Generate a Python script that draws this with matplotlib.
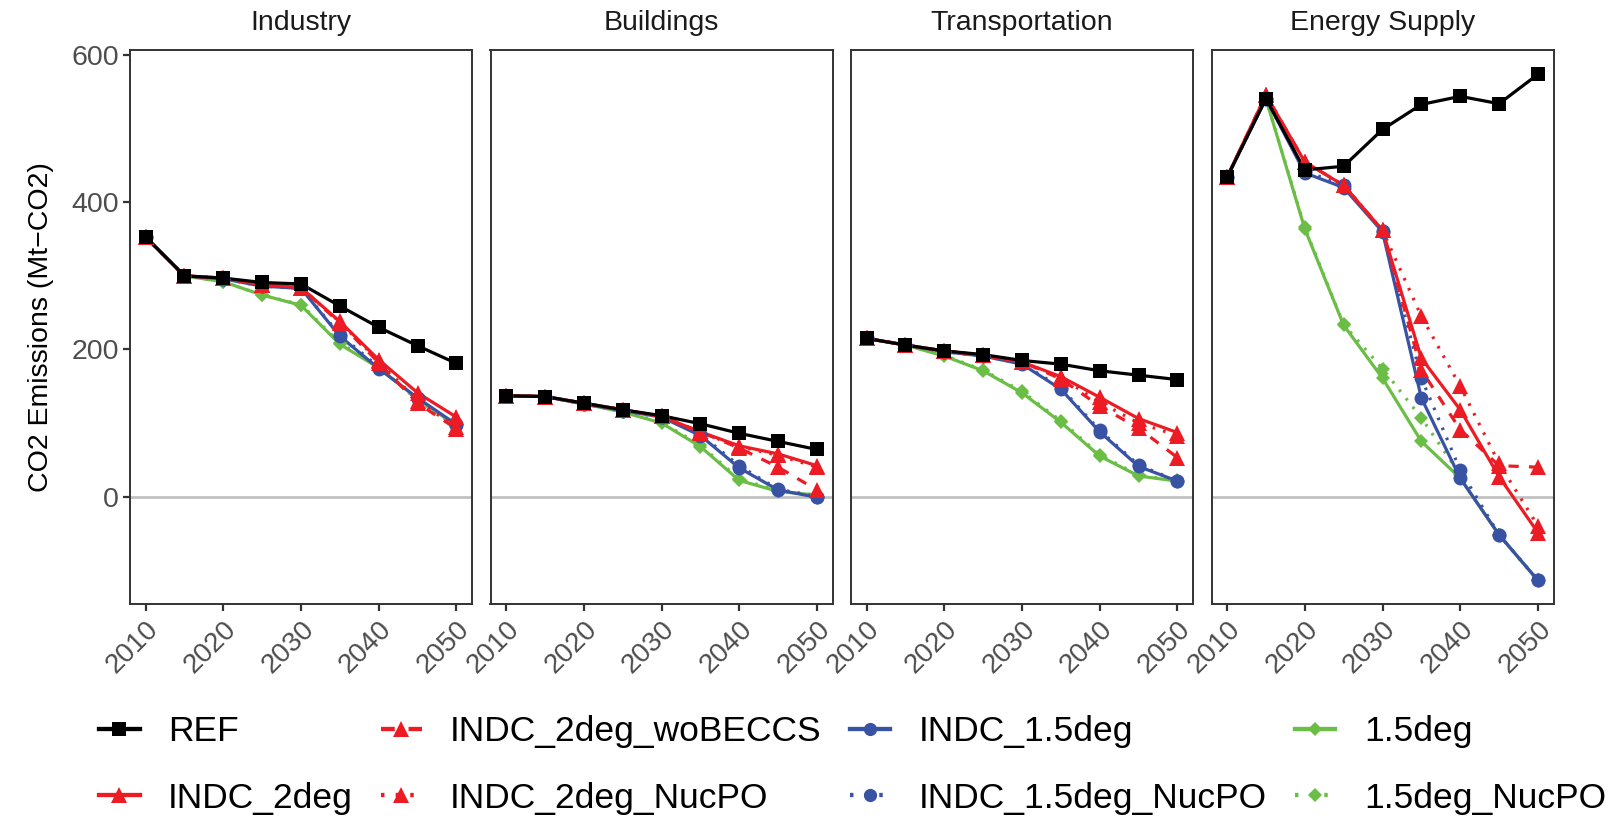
import matplotlib
matplotlib.use("Agg")
import matplotlib.pyplot as plt
from matplotlib.lines import Line2D
from matplotlib.transforms import offset_copy

plt.rcParams["font.family"] = ["Liberation Sans", "DejaVu Sans"]

YEARS = [2010, 2015, 2020, 2025, 2030, 2035, 2040, 2045, 2050]
SECTORS = ["Industry", "Buildings", "Transportation", "Energy Supply"]
SCENARIOS = ["REF", "INDC_2deg", "INDC_2deg_woBECCS", "INDC_2deg_NucPO",
             "INDC_1.5deg", "INDC_1.5deg_NucPO", "1.5deg", "1.5deg_NucPO"]

# Industry
IND_REF = [353, 300, 297, 291, 289, 259, 230, 205, 181]
IND_2DEG = [353, 300, 297, 288, 284, 238, 186, 141, 108]
IND_2DEG_WOBECCS = [353, 300, 297, 288, 284, 236, 182, 127, 92]
IND_2DEG_NUCPO = [353, 300, 297, 288, 284, 237, 184, 130, 94]
IND_15 = [353, 300, 296, 286, 283, 218, 174, 134, 98]
IND_15_NUCPO = [353, 300, 296, 286, 283, 220, 176, 132, 97]
IND_15DEG = [353, 300, 292, 274, 260, 207, 175, 133, 96]
IND_15DEG_NUCPO = [353, 300, 292, 274, 261, 209, 176, 131, 95]

# Buildings
BLD_REF = [137, 136, 127, 118, 110, 99, 86, 75, 64]
BLD_2DEG = [137, 136, 127, 118, 109, 88, 69, 58, 42]
BLD_2DEG_WOBECCS = [137, 136, 127, 118, 109, 88, 66, 40, 9]
BLD_2DEG_NUCPO = [137, 136, 127, 118, 109, 87, 68, 56, 40]
BLD_15 = [137, 136, 126, 117, 108, 83, 39, 9, -1]
BLD_15_NUCPO = [137, 136, 126, 117, 108, 85, 42, 10, 0]
BLD_15DEG = [137, 136, 126, 115, 100, 68, 22, 7, 2]
BLD_15DEG_NUCPO = [137, 136, 126, 115, 101, 70, 24, 8, 2]

# Transportation
TRN_REF = [215, 206, 198, 193, 185, 180, 171, 165, 159]
TRN_2DEG = [215, 206, 198, 192, 183, 163, 135, 106, 87]
TRN_2DEG_WOBECCS = [215, 206, 198, 192, 183, 160, 123, 93, 53]
TRN_2DEG_NUCPO = [215, 206, 198, 192, 183, 162, 128, 100, 83]
TRN_15 = [215, 206, 197, 191, 180, 146, 88, 41, 21]
TRN_15_NUCPO = [215, 206, 197, 191, 181, 148, 90, 43, 21]
TRN_15DEG = [215, 206, 191, 171, 141, 101, 55, 28, 21]
TRN_15DEG_NUCPO = [215, 206, 192, 172, 143, 103, 57, 29, 22]

# Energy Supply
ENE_REF = [434, 541, 444, 449, 499, 533, 544, 534, 574]
ENE_2DEG = [434, 546, 455, 423, 362, 188, 118, 27, -49]
ENE_2DEG_WOBECCS = [434, 546, 455, 423, 362, 172, 91, 42, 40]
ENE_2DEG_NUCPO = [434, 546, 455, 423, 362, 245, 150, 45, -40]
ENE_15 = [434, 541, 440, 420, 360, 134, 25, -52, -114]
ENE_15_NUCPO = [434, 541, 442, 424, 361, 161, 36, -52, -114]
ENE_15DEG = [434, 541, 364, 233, 161, 75, 25, -52, -114]
ENE_15DEG_NUCPO = [434, 541, 366, 234, 174, 107, 30, -52, -114]

DATA = {
    "Industry": [IND_REF, IND_2DEG, IND_2DEG_WOBECCS, IND_2DEG_NUCPO,
                 IND_15, IND_15_NUCPO, IND_15DEG, IND_15DEG_NUCPO],
    "Buildings": [BLD_REF, BLD_2DEG, BLD_2DEG_WOBECCS, BLD_2DEG_NUCPO,
                  BLD_15, BLD_15_NUCPO, BLD_15DEG, BLD_15DEG_NUCPO],
    "Transportation": [TRN_REF, TRN_2DEG, TRN_2DEG_WOBECCS, TRN_2DEG_NUCPO,
                       TRN_15, TRN_15_NUCPO, TRN_15DEG, TRN_15DEG_NUCPO],
    "Energy Supply": [ENE_REF, ENE_2DEG, ENE_2DEG_WOBECCS, ENE_2DEG_NUCPO,
                      ENE_15, ENE_15_NUCPO, ENE_15DEG, ENE_15DEG_NUCPO],
}

RED, BLUE, GREEN = "#ED1C24", "#3953A4", "#6ABD45"
DOT = (0, (0.8, 2.6))
DASH = (0, (3.2, 3.2))
STYLE = {
    "REF":               dict(color="black", ls="-",  marker="s", ms=10.5),
    "INDC_2deg":         dict(color=RED,     ls="-",  marker="^", ms=11.5),
    "INDC_2deg_woBECCS": dict(color=RED,     ls=DASH, marker="^", ms=11.5),
    "INDC_2deg_NucPO":   dict(color=RED,     ls=DOT,  marker="^", ms=11.5),
    "INDC_1.5deg":       dict(color=BLUE,    ls="-",  marker="o", ms=10),
    "INDC_1.5deg_NucPO": dict(color=BLUE,    ls=DOT,  marker="o", ms=10),
    "1.5deg":            dict(color=GREEN,   ls="-",  marker="D", ms=7),
    "1.5deg_NucPO":      dict(color=GREEN,   ls=DOT,  marker="D", ms=7),
}
# drawing order: green under blue under red under black
DRAW_ORDER = ["1.5deg", "1.5deg_NucPO", "INDC_1.5deg", "INDC_1.5deg_NucPO",
              "INDC_2deg", "INDC_2deg_woBECCS", "INDC_2deg_NucPO", "REF"]
LW = 2.3
FRAME = "#333333"

W, H = 1610, 818
fig = plt.figure(figsize=(W / 100, H / 100), dpi=100)
lefts = [130, 490.5, 851, 1211.5]
ax_w, top, bottom = 342, 50, 604

for i, sector in enumerate(SECTORS):
    ax = fig.add_axes([lefts[i] / W, 1 - bottom / H, ax_w / W, (bottom - top) / H])
    ax.axhline(0, color="#BEBEBE", lw=1.9, zorder=1)
    series = dict(zip(SCENARIOS, DATA[sector]))
    for k, name in enumerate(DRAW_ORDER):
        st = STYLE[name]
        ax.plot(YEARS, series[name], color=st["color"], ls=st["ls"], lw=LW,
                zorder=2 + k * 0.01)
    for k, name in enumerate(DRAW_ORDER):
        st = STYLE[name]
        ax.plot(YEARS, series[name], ls="none", marker=st["marker"],
                ms=st["ms"], color=st["color"], mec=st["color"], mew=0,
                zorder=3 + k * 0.01)
    ax.set_xlim(2008, 2052)
    ax.set_ylim(-146, 607)
    ax.set_xticks([2010, 2020, 2030, 2040, 2050])
    ax.set_xticklabels(["2010", "2020", "2030", "2040", "2050"],
                       rotation=45, ha="right", va="top",
                       rotation_mode="anchor")
    ax.tick_params(axis="x", length=5, width=1.6, color=FRAME, pad=4,
                   labelsize=20, labelcolor="#4D4D4D")
    if i == 0:
        ax.set_yticks([0, 200, 400, 600])
        ax.tick_params(axis="y", length=5, width=1.6, color=FRAME, pad=3,
                       labelsize=20.5, labelcolor="#4D4D4D")
    else:
        ax.set_yticks([])
    for sp in ax.spines.values():
        sp.set_color(FRAME)
        sp.set_linewidth(1.4)
    tr = offset_copy(ax.transAxes, fig=fig, x=0, y=27 * 0.72, units="points")
    ax.text(0.5, 1.0, sector, transform=tr, ha="center", va="center",
            fontsize=20.5, color="#1A1A1A")

fig.text(41 / W, 1 - ((top + bottom) / 2) / H, "CO2 Emissions (Mt\u2212CO2)",
         rotation=90, ha="center", va="center", fontsize=20.5)

handles = []
for name in SCENARIOS:
    st = STYLE[name]
    handles.append(Line2D([], [], color=st["color"], ls=st["ls"], lw=LW + 0.8,
                          marker=st["marker"], ms=st["ms"] * 0.95, mew=0))
fig.legend(handles, SCENARIOS, ncol=4, loc="upper left",
           bbox_to_anchor=(99 / W, 1 - 715 / H), frameon=False,
           fontsize=25.5, handlelength=1.15, handletextpad=0.8,
           columnspacing=0.79, labelspacing=0.95, borderpad=0,
           borderaxespad=0, numpoints=1)

fig.savefig("out.png", dpi=100)
